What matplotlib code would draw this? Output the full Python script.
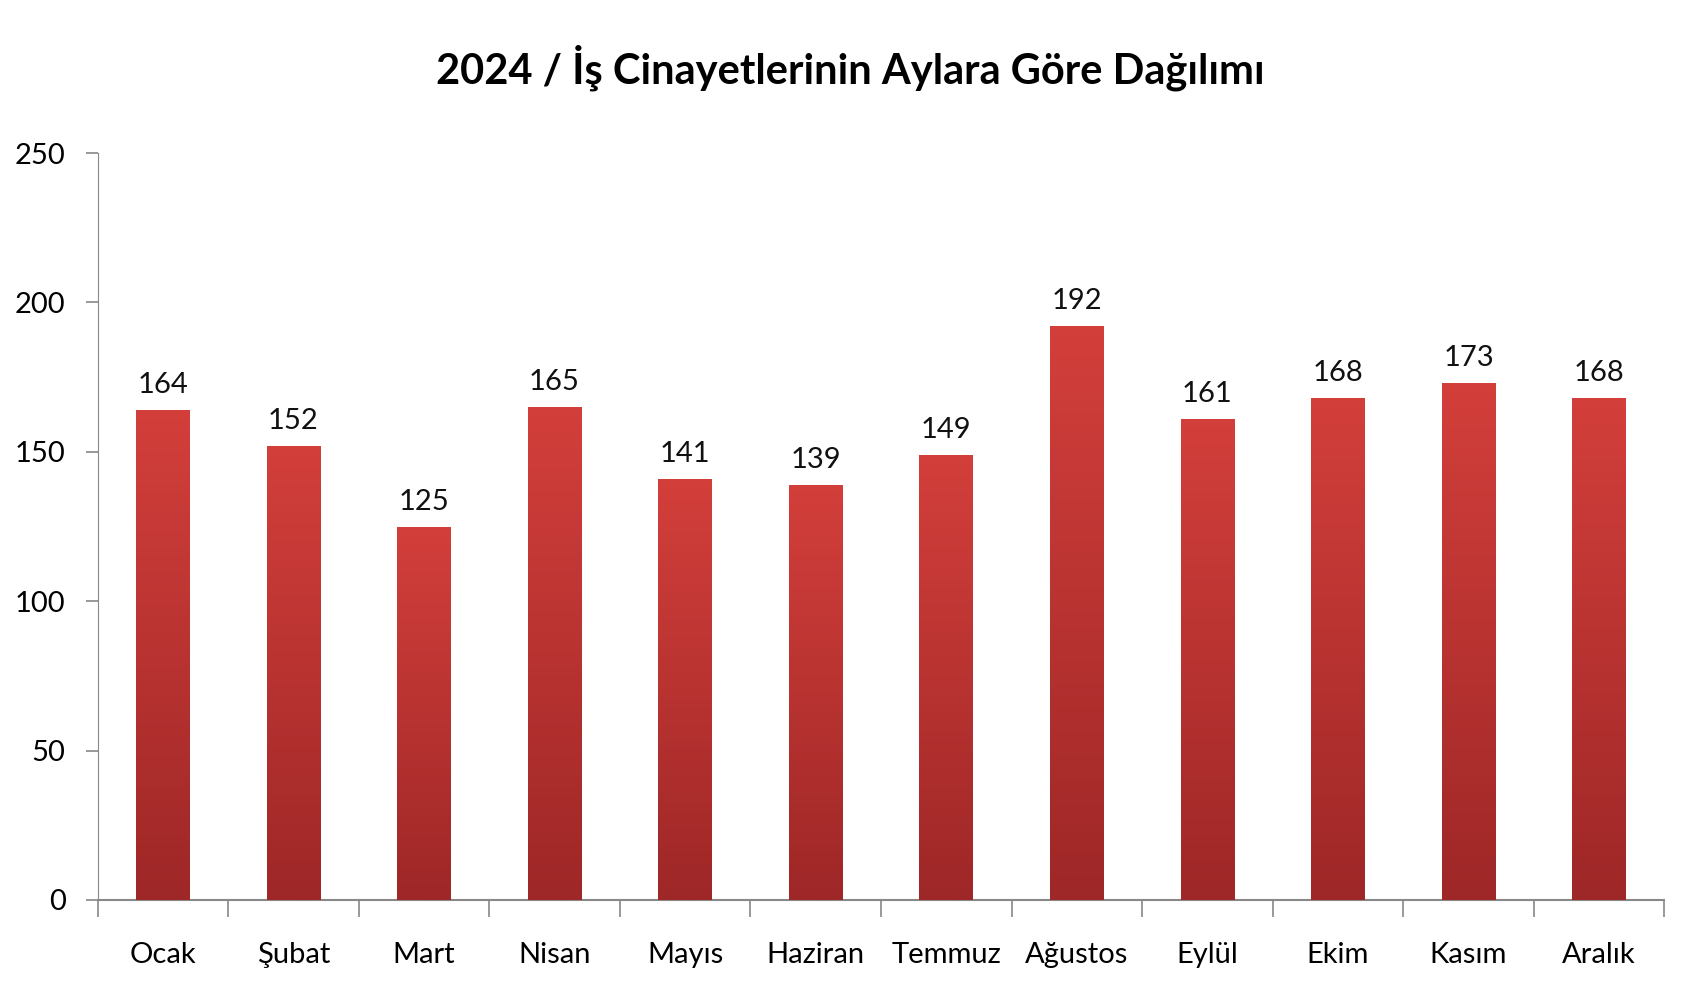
import matplotlib
matplotlib.use("Agg")
import matplotlib.pyplot as plt
import numpy as np
from matplotlib.colors import LinearSegmentedColormap

plt.rcParams['font.family'] = ['Lato', 'DejaVu Sans']

aylar = ["Ocak", "Şubat", "Mart", "Nisan", "Mayıs", "Haziran", "Temmuz",
         "Ağustos", "Eylül", "Ekim", "Kasım", "Aralık"]
olum = [164, 152, 125, 165, 141, 139, 149, 192, 161, 168, 173, 168]
baslik = "2024 / İş Cinayetlerinin Aylara Göre Dağılımı"

fig = plt.figure(figsize=(17, 10), dpi=100)
ax = fig.add_axes([0.0574, 0.10, 0.9216, 0.747])

x = np.arange(len(aylar))
bars = ax.bar(x, olum, width=0.41, color="#c23532", edgecolor="none", zorder=2)

# dikey gradyan: ustte acik kirmizi, altta koyu
cmap = LinearSegmentedColormap.from_list("kirmizi", ["#9e2727", "#d33f3b"])
grad = np.linspace(0, 1, 256).reshape(-1, 1)
for b in bars:
    x0, w, h = b.get_x(), b.get_width(), b.get_height()
    im = ax.imshow(grad, cmap=cmap, origin="lower", aspect="auto",
                   extent=(x0, x0 + w, 0, h), zorder=3)
    im.set_clip_path(b)

for xi, v in zip(x, olum):
    ax.text(xi, v + 4, str(v), ha="center", va="bottom", fontsize=21, color="#111111")

ax.set_xlim(-0.5, len(aylar) - 0.5)
ax.set_ylim(0, 250)
ax.set_yticks(range(0, 251, 50))
ax.set_xticks(x)
ax.set_xticklabels(aylar)
ax.set_xticks(np.arange(-0.5, len(aylar), 1), minor=True)
ax.tick_params(axis="x", which="major", length=0, pad=30, labelsize=21)
ax.tick_params(axis="x", which="minor", length=12, width=1.2, color="#888888", direction="out")
ax.tick_params(axis="y", length=9, width=1.2, color="#888888", pad=14, labelsize=21)

for s in ("top", "right"):
    ax.spines[s].set_visible(False)
ax.spines["left"].set_color("#888888")
ax.spines["bottom"].set_color("#888888")
ax.spines["bottom"].set_linewidth(1.5)

fig.text(0.5, 0.932, baslik, ha="center", va="center", fontsize=30, fontweight="bold")

fig.savefig("out.png", dpi=100)
